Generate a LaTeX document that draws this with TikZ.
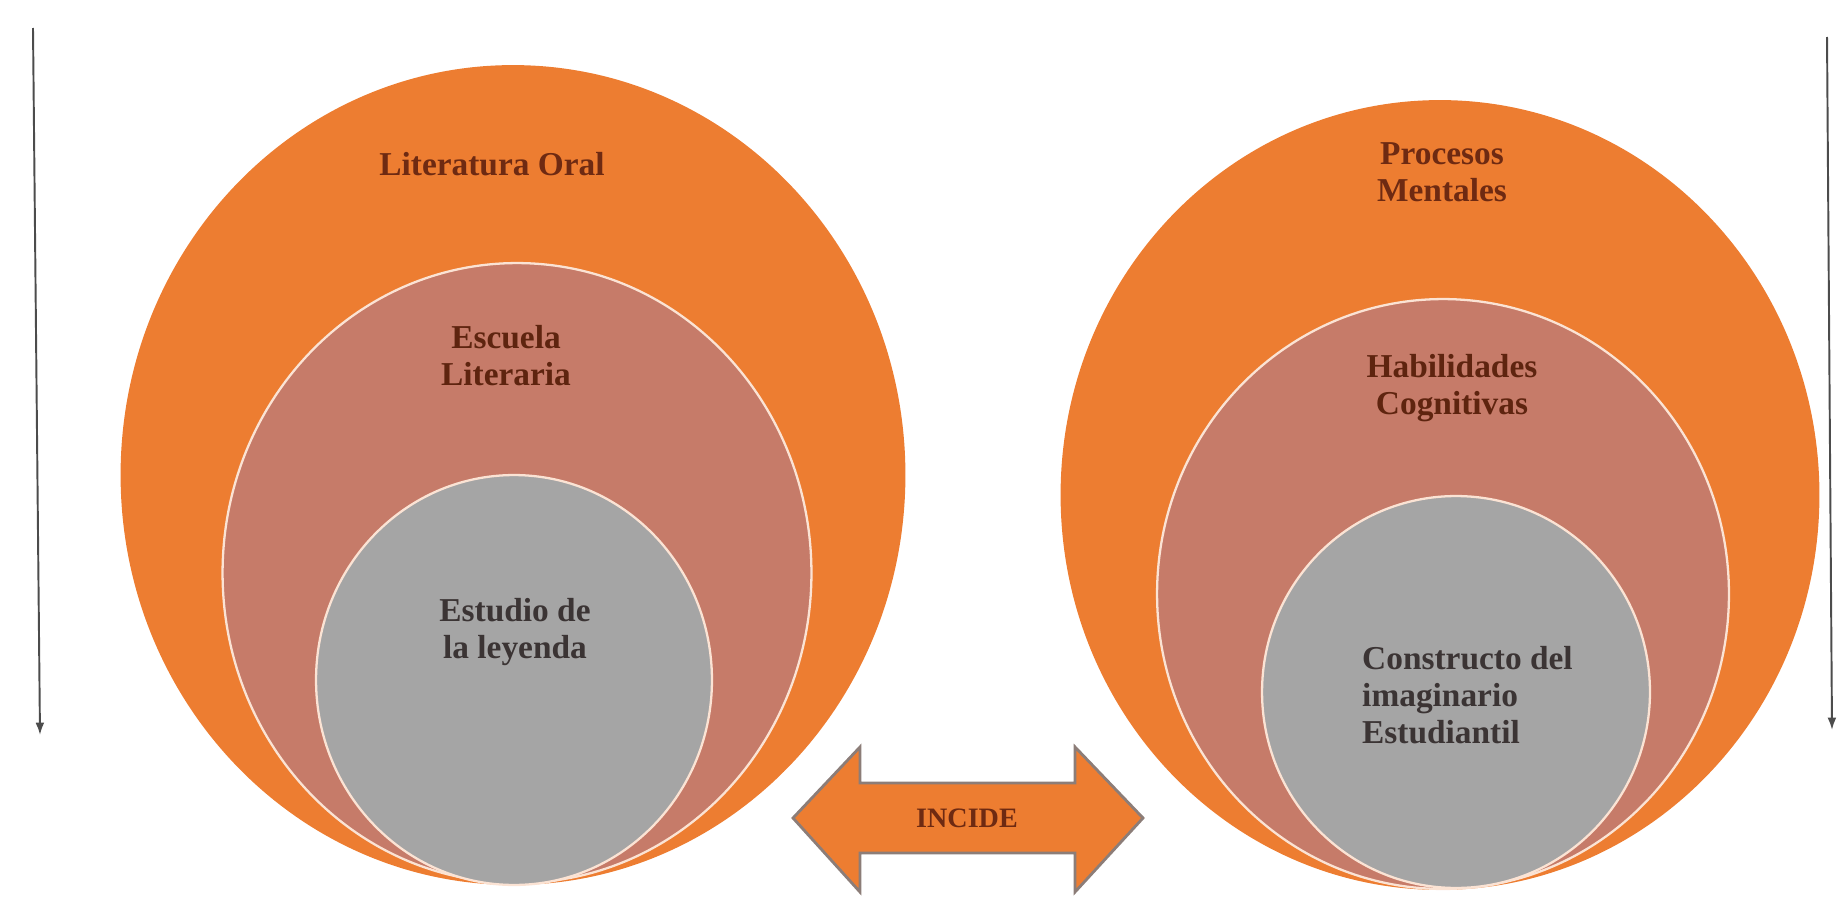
\documentclass[tikz,border=0pt]{standalone}
\usepackage{fontspec}
\setmainfont{Liberation Serif}
\usepackage{tikz}
\usetikzlibrary{shapes.geometric}
\usetikzlibrary{arrows.meta}

\definecolor{ringorange}{HTML}{ED7D31}
\definecolor{ringrose}{HTML}{C67B69}
\definecolor{ringgray}{HTML}{A5A5A5}
\definecolor{ringline}{HTML}{FBE3D4}
\definecolor{labelbrown}{HTML}{6E2A12}
\definecolor{labeldark}{HTML}{3B3434}
\definecolor{arrowedge}{HTML}{8C7D78}

\begin{document}
\begin{tikzpicture}[x=0.02cm,y=-0.02cm]
    \tikzstyle{every node}=[font=\bfseries\fontsize{19}{21}\selectfont,align=center]
    \tikzstyle{ring}=[ellipse,draw=ringline,line width=1.3pt,inner sep=0pt]
    \tikzstyle{axis}=[draw=black!70,line width=1.1pt,-{Latex[length=7pt,width=5pt]}]
    \useasboundingbox (0,0) rectangle (1838,899);

    % left side: three nested rings
    \node[ring,fill=ringorange,draw=none,minimum width=15.7cm,minimum height=16.4cm] (oral) at (513,475) {};
    \node[ring,fill=ringrose,minimum width=11.78cm,minimum height=12.4cm] (escuela) at (517,573) {};
    \node[ring,fill=ringgray,minimum width=7.92cm,minimum height=8.2cm] (estudio) at (514,680) {};
    \node[text=labelbrown] (oraltxt) at (492,164) {Literatura Oral};
    \node[text=labelbrown!85!black] (escuelatxt) at (506,356) {Escuela\\Literaria};
    \node[text=labeldark] (estudiotxt) at (515,632) {Estudio de\\la leyenda};

    % right side: three nested rings
    \node[ring,fill=ringorange,draw=none,minimum width=15.18cm,minimum height=15.8cm] (procesos) at (1440,495) {};
    \node[ring,fill=ringrose,minimum width=11.44cm,minimum height=11.8cm] (habilidades) at (1443,594) {};
    \node[ring,fill=ringgray,minimum width=7.76cm,minimum height=7.84cm] (constructo) at (1456,692) {};
    \node[text=labelbrown] (procesostxt) at (1442,172) {Procesos\\Mentales};
    \node[text=labelbrown!85!black] (habilidadestxt) at (1452,388) {Habilidades\\Cognitivas};
    \node[text=labeldark,anchor=west,align=left] (constructotxt) at (1356,695) {Constructo del\\imaginario\\Estudiantil};

    % double arrow between the two sides
    \filldraw[fill=ringorange,draw=arrowedge,line width=1.6pt,line join=miter]
        (793,818) -- (860,747) -- (860,783) -- (1075,783) -- (1075,747) -- (1143,818)
        -- (1075,892) -- (1075,853) -- (860,853) -- (860,892) -- cycle;
    \node[text=labelbrown,font=\bfseries\fontsize{16}{18}\selectfont] (incide) at (967,818) {INCIDE};

    % vertical arrows at both edges
    \coordinate (ltop) at (33,28);
    \coordinate (lbot) at (40,735);
    \draw[axis] (ltop) -- (lbot);
    \coordinate (rtop) at (1827,37);
    \coordinate (rbot) at (1832,730);
    \draw[axis] (rtop) -- (rbot);
\end{tikzpicture}
\end{document}
